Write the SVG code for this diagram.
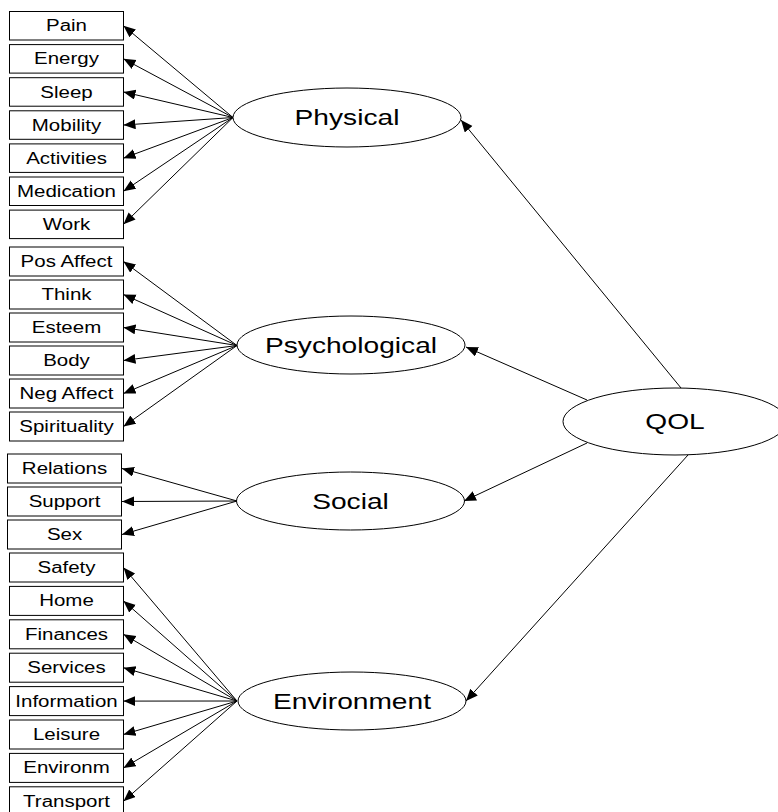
<svg xmlns="http://www.w3.org/2000/svg" width="778" height="812" viewBox="0 0 778 812">
<style>
rect.box{fill:#fff;stroke:#000;stroke-width:1}
ellipse.lat{fill:#fff;stroke:#000;stroke-width:1}
text{font-family:"Liberation Sans",Arial,sans-serif;fill:#000;text-anchor:middle}
text.b{font-size:16px}
text.e{font-size:22px}
#connectors line{stroke:#000;stroke-width:1;marker-end:url(#arr)}
</style>
<defs>
<marker id="arr" markerUnits="userSpaceOnUse" markerWidth="14" markerHeight="12" refX="12" refY="5" orient="auto">
<path d="M0,0 L12,5 L0,10 z" fill="#000"/>
</marker>
</defs>
<rect width="778" height="812" fill="#fff"/>
<g id="connectors">
<line x1="681" y1="388" x2="461" y2="120"/>
<line x1="587" y1="400" x2="466" y2="347"/>
<line x1="587" y1="443" x2="464" y2="501"/>
<line x1="688" y1="455" x2="466" y2="701"/>
<line x1="233" y1="117.5" x2="123.5" y2="25.75"/>
<line x1="233" y1="117.5" x2="123.5" y2="58.85"/>
<line x1="233" y1="117.5" x2="123.5" y2="91.95"/>
<line x1="233" y1="117.5" x2="123.5" y2="125.05"/>
<line x1="233" y1="117.5" x2="123.5" y2="158.15"/>
<line x1="233" y1="117.5" x2="123.5" y2="191.25"/>
<line x1="233" y1="117.5" x2="123.5" y2="224.35"/>
<line x1="237" y1="345.5" x2="123.5" y2="261.5"/>
<line x1="237" y1="345.5" x2="123.5" y2="294.5"/>
<line x1="237" y1="345.5" x2="123.5" y2="327.5"/>
<line x1="237" y1="345.5" x2="123.5" y2="360.5"/>
<line x1="237" y1="345.5" x2="123.5" y2="393.5"/>
<line x1="237" y1="345.5" x2="123.5" y2="426.5"/>
<line x1="237" y1="501" x2="122" y2="468.5"/>
<line x1="237" y1="501" x2="122" y2="501.5"/>
<line x1="237" y1="501" x2="122" y2="534.5"/>
<line x1="237" y1="701" x2="123.5" y2="567.5"/>
<line x1="237" y1="701" x2="123.5" y2="600.9"/>
<line x1="237" y1="701" x2="123.5" y2="634.3"/>
<line x1="237" y1="701" x2="123.5" y2="667.7"/>
<line x1="237" y1="701" x2="123.5" y2="701.1"/>
<line x1="237" y1="701" x2="123.5" y2="734.5"/>
<line x1="237" y1="701" x2="123.5" y2="767.9"/>
<line x1="237" y1="701" x2="123.5" y2="801.3"/>
</g>
<g id="QOL"><ellipse class="lat" cx="675" cy="421.5" rx="112" ry="33.5"/><text class="e" transform="translate(675,429) scale(1.28,1)">QOL</text></g>
<g id="Physical"><ellipse class="lat" cx="347" cy="117.5" rx="114" ry="29.5"/><text class="e" transform="translate(347,125) scale(1.28,1)">Physical</text></g>
<g id="Psychological"><ellipse class="lat" cx="351" cy="345" rx="114" ry="29"/><text class="e" transform="translate(351,352.5) scale(1.28,1)">Psychological</text></g>
<g id="Social"><ellipse class="lat" cx="350.5" cy="501" rx="114" ry="29"/><text class="e" transform="translate(350.5,508.5) scale(1.28,1)">Social</text></g>
<g id="Environment"><ellipse class="lat" cx="352" cy="701" rx="114" ry="29"/><text class="e" transform="translate(352,708.5) scale(1.28,1)">Environment</text></g>
<g id="Pain"><rect class="box" x="9.5" y="11.5" width="114" height="28.5"/><text class="b" transform="translate(66.5,31.3) scale(1.28,1)">Pain</text></g>
<g id="Energy"><rect class="box" x="9.5" y="44.6" width="114" height="28.5"/><text class="b" transform="translate(66.5,64.4) scale(1.28,1)">Energy</text></g>
<g id="Sleep"><rect class="box" x="9.5" y="77.7" width="114" height="28.5"/><text class="b" transform="translate(66.5,97.5) scale(1.28,1)">Sleep</text></g>
<g id="Mobility"><rect class="box" x="9.5" y="110.8" width="114" height="28.5"/><text class="b" transform="translate(66.5,130.6) scale(1.28,1)">Mobility</text></g>
<g id="Activities"><rect class="box" x="9.5" y="143.9" width="114" height="28.5"/><text class="b" transform="translate(66.5,163.7) scale(1.28,1)">Activities</text></g>
<g id="Medication"><rect class="box" x="9.5" y="177" width="114" height="28.5"/><text class="b" transform="translate(66.5,196.8) scale(1.28,1)">Medication</text></g>
<g id="Work"><rect class="box" x="9.5" y="210.1" width="114" height="28.5"/><text class="b" transform="translate(66.5,229.9) scale(1.28,1)">Work</text></g>
<g id="PosAffect"><rect class="box" x="9.5" y="247" width="114" height="29"/><text class="b" transform="translate(66.5,267) scale(1.28,1)">Pos Affect</text></g>
<g id="Think"><rect class="box" x="9.5" y="280" width="114" height="29"/><text class="b" transform="translate(66.5,300) scale(1.28,1)">Think</text></g>
<g id="Esteem"><rect class="box" x="9.5" y="313" width="114" height="29"/><text class="b" transform="translate(66.5,333) scale(1.28,1)">Esteem</text></g>
<g id="Body"><rect class="box" x="9.5" y="346" width="114" height="29"/><text class="b" transform="translate(66.5,366) scale(1.28,1)">Body</text></g>
<g id="NegAffect"><rect class="box" x="9.5" y="379" width="114" height="29"/><text class="b" transform="translate(66.5,399) scale(1.28,1)">Neg Affect</text></g>
<g id="Spirituality"><rect class="box" x="9.5" y="412" width="114" height="29"/><text class="b" transform="translate(66.5,432) scale(1.28,1)">Spirituality</text></g>
<g id="Relations"><rect class="box" x="7.5" y="454" width="114" height="29"/><text class="b" transform="translate(64.5,474) scale(1.28,1)">Relations</text></g>
<g id="Support"><rect class="box" x="7.5" y="487" width="114" height="29"/><text class="b" transform="translate(64.5,507) scale(1.28,1)">Support</text></g>
<g id="Sex"><rect class="box" x="7.5" y="520" width="114" height="29"/><text class="b" transform="translate(64.5,540) scale(1.28,1)">Sex</text></g>
<g id="Safety"><rect class="box" x="9.5" y="553" width="114" height="29"/><text class="b" transform="translate(66.5,573) scale(1.28,1)">Safety</text></g>
<g id="Home"><rect class="box" x="9.5" y="586.4" width="114" height="29"/><text class="b" transform="translate(66.5,606.4) scale(1.28,1)">Home</text></g>
<g id="Finances"><rect class="box" x="9.5" y="619.8" width="114" height="29"/><text class="b" transform="translate(66.5,639.8) scale(1.28,1)">Finances</text></g>
<g id="Services"><rect class="box" x="9.5" y="653.2" width="114" height="29"/><text class="b" transform="translate(66.5,673.2) scale(1.28,1)">Services</text></g>
<g id="Information"><rect class="box" x="9.5" y="686.6" width="114" height="29"/><text class="b" transform="translate(66.5,706.6) scale(1.28,1)">Information</text></g>
<g id="Leisure"><rect class="box" x="9.5" y="720" width="114" height="29"/><text class="b" transform="translate(66.5,740) scale(1.28,1)">Leisure</text></g>
<g id="Environm"><rect class="box" x="9.5" y="753.4" width="114" height="29"/><text class="b" transform="translate(66.5,773.4) scale(1.28,1)">Environm</text></g>
<g id="Transport"><rect class="box" x="9.5" y="786.8" width="114" height="29"/><text class="b" transform="translate(66.5,806.8) scale(1.28,1)">Transport</text></g>
</svg>
